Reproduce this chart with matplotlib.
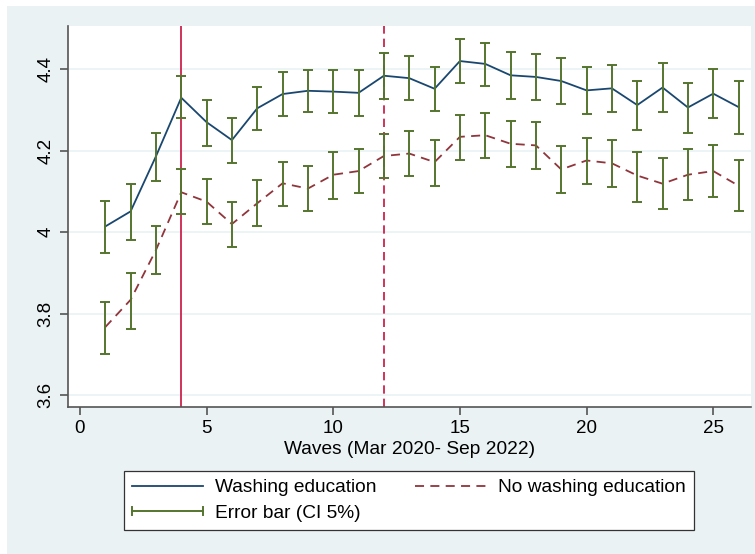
import numpy as np
import matplotlib.pyplot as plt
from matplotlib.lines import Line2D
from matplotlib.patches import Rectangle
from matplotlib.legend_handler import HandlerBase

plt.rcParams['font.family'] = ['Liberation Sans', 'DejaVu Sans']

# данные
waves = np.arange(1, 27)

wash_mean = [4.014, 4.051, 4.186, 4.330, 4.270, 4.226, 4.304, 4.339, 4.347, 4.345,
             4.342, 4.384, 4.378, 4.352, 4.420, 4.413, 4.385, 4.381, 4.371, 4.348,
             4.353, 4.312, 4.355, 4.306, 4.340, 4.307]
wash_hi = [4.077, 4.118, 4.244, 4.383, 4.325, 4.279, 4.357, 4.393, 4.399, 4.397,
           4.398, 4.439, 4.433, 4.405, 4.475, 4.465, 4.442, 4.438, 4.427, 4.406,
           4.411, 4.372, 4.416, 4.367, 4.401, 4.372]
wash_lo = [3.950, 3.981, 4.126, 4.279, 4.212, 4.170, 4.250, 4.285, 4.294, 4.292,
           4.285, 4.328, 4.325, 4.298, 4.366, 4.359, 4.328, 4.324, 4.314, 4.290,
           4.296, 4.250, 4.296, 4.243, 4.281, 4.242]

nowash_mean = [3.767, 3.834, 3.956, 4.098, 4.075, 4.020, 4.071, 4.120, 4.107, 4.141,
               4.150, 4.187, 4.193, 4.172, 4.234, 4.238, 4.217, 4.213, 4.154, 4.176,
               4.169, 4.139, 4.119, 4.141, 4.150, 4.114]
nowash_hi = [3.829, 3.899, 4.015, 4.154, 4.130, 4.074, 4.127, 4.173, 4.163, 4.198,
             4.205, 4.240, 4.249, 4.226, 4.287, 4.293, 4.273, 4.270, 4.212, 4.232,
             4.226, 4.198, 4.181, 4.203, 4.213, 4.178]
nowash_lo = [3.702, 3.762, 3.898, 4.044, 4.020, 3.964, 4.015, 4.065, 4.052, 4.082,
             4.095, 4.133, 4.139, 4.114, 4.177, 4.183, 4.160, 4.156, 4.096, 4.118,
             4.110, 4.074, 4.057, 4.078, 4.087, 4.051]

intervention_waves = [4, 12]

blue = '#1a476f'
maroon = '#90353b'
green = '#55752f'
crimson = '#c8103e'
bg = '#eaf2f3'


class CapHandler(HandlerBase):
    # линия с засечками на обоих концах (как в Stata)
    def create_artists(self, legend, orig, xd, yd, w, h, fontsize, trans):
        y = h / 2 - yd
        x0, x1 = -xd, -xd + w
        c = h * 0.28
        arts = [Line2D([x0, x1], [y, y], color=green, lw=1.4),
                Line2D([x0, x0], [y - c, y + c], color=green, lw=1.4),
                Line2D([x1, x1], [y - c, y + c], color=green, lw=1.4)]
        for a in arts:
            a.set_transform(trans)
        return arts


fig = plt.figure(figsize=(7.55, 5.54), dpi=100)
fig.patches.append(Rectangle((7 / 755, 0), 1, 1 - 6 / 554, transform=fig.transFigure,
                             facecolor=bg, edgecolor='none', zorder=-10))

ax = fig.add_axes([68 / 755, 1 - 407 / 554, (751 - 68) / 755, (407 - 26) / 554])
ax.set_facecolor('white')

ax.plot(waves, wash_mean, color=blue, lw=1.3, zorder=3)
ax.plot(waves, nowash_mean, color=maroon, lw=1.3, ls=(0, (5, 3.5)), zorder=3)

for mean, lo, hi in [(wash_mean, wash_lo, wash_hi), (nowash_mean, nowash_lo, nowash_hi)]:
    mean = np.array(mean)
    err = [mean - np.array(lo), np.array(hi) - mean]
    ax.errorbar(waves, mean, yerr=err, fmt='none', ecolor=green, elinewidth=1.4,
                capsize=3.3, capthick=1.4, zorder=4)

ax.axvline(intervention_waves[0], color=crimson, lw=1.2, zorder=2)
ax.axvline(intervention_waves[1], color=crimson, lw=1.2, ls=(0, (5, 3)), zorder=2)

ax.set_xlim(-0.47, 26.49)
ax.set_ylim(3.571, 4.506)
ax.set_xticks([0, 5, 10, 15, 20, 25])
ax.set_yticks([3.6, 3.8, 4.0, 4.2, 4.4])
ax.set_yticklabels(['3.6', '3.8', '4', '4.2', '4.4'], rotation=90, va='center')
ax.grid(axis='y', color=bg, lw=1.2, zorder=0)
ax.set_axisbelow(True)

for s in ['top', 'right']:
    ax.spines[s].set_visible(False)
for s in ['left', 'bottom']:
    ax.spines[s].set_color('#555555')
    ax.spines[s].set_linewidth(1.2)
ax.tick_params(labelsize=13.5, color='#555555', width=1.2, length=6)
ax.set_xlabel('Waves (Mar 2020- Sep 2022)', fontsize=13.8, labelpad=3)

h_wash = Line2D([], [], color=blue, lw=1.3)
h_nowash = Line2D([], [], color=maroon, lw=1.3, ls=(0, (5, 3.5)))
h_err = Line2D([], [], color=green)
leg = fig.legend([h_wash, h_err, h_nowash],
                 ['Washing education', 'Error bar (CI 5%)', 'No washing education'],
                 ncol=2, loc='lower left',
                 bbox_to_anchor=(124 / 755, 1 - 530 / 554, (694 - 124) / 755, 60 / 554),
                 mode='expand', borderaxespad=0, fontsize=13.8, handlelength=3.7,
                 handletextpad=0.65, labelspacing=0.42, borderpad=0.42, columnspacing=2.0,
                 fancybox=False, framealpha=1, edgecolor='#333333',
                 handler_map={h_err: CapHandler()})
leg.get_frame().set_linewidth(0.9)

fig.savefig('out.png', dpi=100)
